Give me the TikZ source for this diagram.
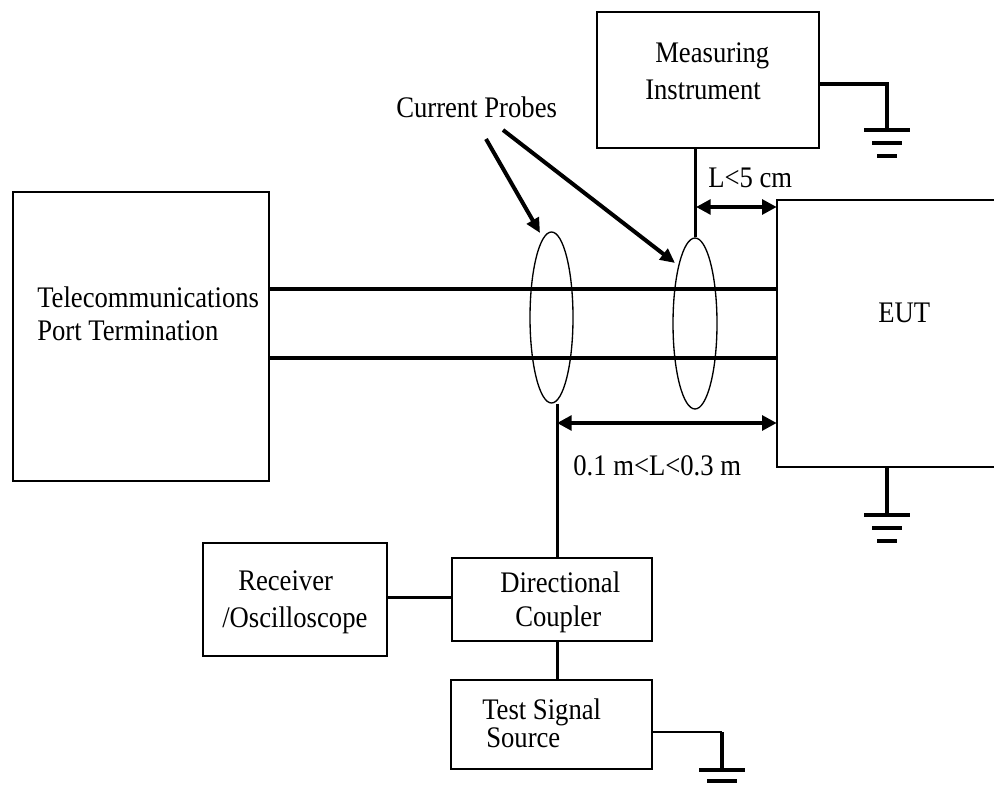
\documentclass[tikz,border=0pt]{standalone}
\usepackage{fontspec}
\usepackage{graphicx}
\setmainfont{Liberation Serif}
\usetikzlibrary{arrows.meta,shapes.geometric}
\newcommand\vstr[1]{\scalebox{1}[1.12]{#1}}
\begin{document}
\begin{tikzpicture}[x=0.75pt,y=-0.75pt,
  box/.style={draw, line width=1.2pt, inner sep=0},
  txt/.style={inner sep=0, anchor=base west, font=\fontsize{20}{24}\selectfont},
  cable/.style={line width=3pt},
  wire/.style={line width=2.25pt},
  thinwire/.style={line width=1.1pt},
  dim/.style={line width=3pt, {Triangle[length=11pt,width=11pt]}-{Triangle[length=11pt,width=11pt]}},
  ptr/.style={line width=3pt, -{Triangle[length=11pt,width=10pt]}},
  probe/.style={draw, ellipse, line width=1pt, inner sep=0},
  bar/.style={line width=3pt},
  pics/gnd/.style={code={
    \draw[bar] (-23,0) -- (23,0);
    \draw[bar] (-15,#1) -- (15,#1);
    \draw[bar] (-10,2*#1) -- (10,2*#1);
  }}
]
\useasboundingbox (0,0) rectangle (994,787);

% boxes
\node[box, minimum width=192pt, minimum height=216.75pt] (tel) at (141,336.5) {};
\node[box, minimum width=166.5pt, minimum height=102pt] (meas) at (708,80) {};
\node[inner sep=0, minimum width=162.75pt, minimum height=199.5pt] (eut) at (885.5,333.5) {};
\draw[line width=1.2pt] (eut.north east) -- (eut.north west) -- (eut.south west) -- (eut.south east);
\node[box, minimum width=138pt, minimum height=84.75pt] (rec) at (295,599.5) {};
\node[box, minimum width=150pt, minimum height=62.25pt] (dc) at (552,599.5) {};
\node[box, minimum width=150.75pt, minimum height=66.75pt] (tss) at (551.5,724.5) {};

% texts
\node[txt] (tTel1) at (37,308) {\vstr{Telecommunications}};
\node[txt] (tTel2) at (37,340) {\vstr{Port Termination}};
\node[txt] (tCP) at (396,118) {\vstr{Current Probes}};
\node[txt] (tMeas1) at (655,63) {\vstr{Measuring}};
\node[txt] (tMeas2) at (645,100) {\vstr{Instrument}};
\node[txt] (tL5) at (708,188) {\vstr{L<5 cm}};
\node[txt] (tEUT) at (878,323) {\vstr{EUT}};
\node[txt] (tL) at (573,475) {\vstr{0.1 m<L<0.3 m}};
\node[txt] (tRec1) at (238,590) {\vstr{Receiver}};
\node[txt] (tRec2) at (222,627) {\vstr{/Oscilloscope}};
\node[txt] (tDc1) at (500,592) {\vstr{Directional}};
\node[txt] (tDc2) at (515,626) {\vstr{Coupler}};
\node[txt] (tTss1) at (482,719) {\vstr{Test Signal}};
\node[txt] (tTss2) at (486,747) {\vstr{Source}};

% cables
\coordinate (yA) at (0,289);
\coordinate (yB) at (0,358);
\draw[cable] (tel.east |- yA) -- (eut.west |- yA);
\draw[cable] (tel.east |- yB) -- (eut.west |- yB);

% probes
\node[probe, minimum width=32.25pt, minimum height=128.25pt] (p1) at (551.5,317.5) {};
\node[probe, minimum width=33pt, minimum height=128.25pt] (p2) at (695,323.5) {};

% measuring instrument link
\draw[wire] (meas.south -| p2.north) -- (p2.north);
\coordinate (y5) at (0,207);
\coordinate (x5) at (696,0);
\draw[dim] (x5 |- y5) -- (eut.west |- y5);

% lower probe link
\coordinate (vx) at (557,0);
\draw[wire] (vx |- p1.south) -- (vx |- dc.north);
\coordinate (y3) at (0,423);
\draw[dim] (vx |- y3) -- (eut.west |- y3);
\coordinate (yR) at (0,597);
\draw[wire] (rec.east |- yR) -- (dc.west |- yR);
\draw[wire] (vx |- dc.south) -- (vx |- tss.north);

% current probe pointers
\coordinate (s1) at (486,139);
\coordinate (t1) at (540,233);
\coordinate (s2) at (503,130);
\coordinate (t2) at (675,263);
\draw[ptr] (s1) -- (t1);
\draw[ptr] (s2) -- (t2);

% grounds
\coordinate (yM) at (0,84);
\coordinate (gM) at (887,130);
\draw[cable] (meas.east |- yM) -| (gM);
\pic at (gM) {gnd=13};
\coordinate (gE) at (887,515);
\draw[cable] (eut.south -| gE) -- (gE);
\pic at (gE) {gnd=13};
\coordinate (yT) at (0,732);
\coordinate (gT) at (722,770);
\draw[thinwire] (tss.east |- yT) -- (gT |- yT);
\draw[cable] (gT |- yT) -- (gT);
\pic at (gT) {gnd=11};
\end{tikzpicture}
\end{document}
